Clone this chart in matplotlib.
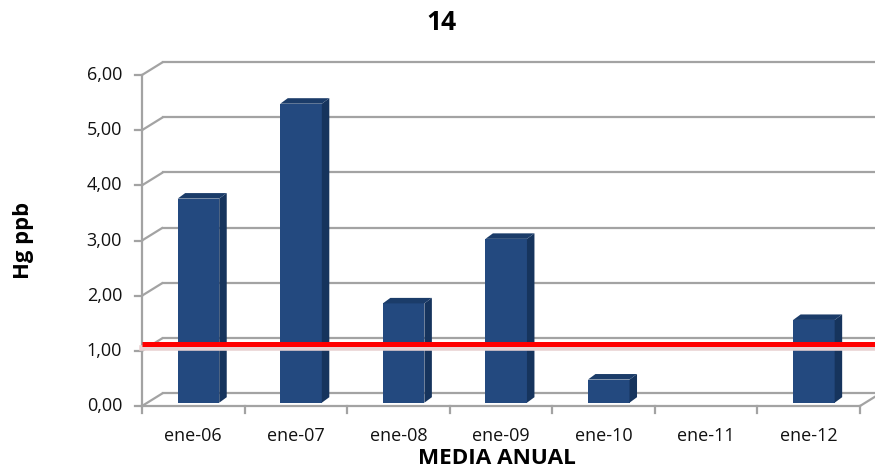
import matplotlib
matplotlib.use("Agg")
import matplotlib.pyplot as plt
from matplotlib.patches import Polygon
import numpy as np

categories = ["ene-06", "ene-07", "ene-08", "ene-09", "ene-10", "ene-11", "ene-12"]
values = [3.70, 5.42, 1.80, 2.97, 0.42, np.nan, 1.50]
limit_value = 1.0
yticks = [0, 1, 2, 3, 4, 5, 6]
ytick_labels = ["0,00", "1,00", "2,00", "3,00", "4,00", "5,00", "6,00"]
title = "14"
ylabel = "Hg ppb"
xlabel = "MEDIA ANUAL"

FONT = "Open Sans"
W, H = 875, 471
fig = plt.figure(figsize=(W / 100, H / 100), dpi=100)
x0px, x1px, y0px, y1px = 142, 860, 406, 75
ax = fig.add_axes([x0px / W, (H - y0px) / H, (x1px - x0px) / W, (y0px - y1px) / H])
n = len(categories)
ax.set_xlim(0, n)
ax.set_ylim(0, 6)
ax.axis("off")

px = n / (x1px - x0px)        # data units per pixel (x)
py = 6 / (y0px - y1px)        # data units per pixel (y)

dxw, dyw = 21 * px, 13 * py   # wall depth
grid_c = "#a3a3a3"
glw = 1.6

# back wall gridlines + diagonals
for v, lab in zip(yticks, ytick_labels):
    ax.plot([0, dxw], [v, v + dyw], color=grid_c, lw=glw, clip_on=False, solid_capstyle="butt")
    ax.plot([dxw, n + dxw + 1], [v + dyw, v + dyw], color=grid_c, lw=glw, clip_on=False)
    ax.plot([-7 * px, 0], [v, v], color=grid_c, lw=glw, clip_on=False)
    ax.text(-20 * px, v, lab, ha="right", va="center",
            fontsize=13, family=FONT, color="#111111")

# front vertical axis
ax.plot([0, 0], [0, 6], color=grid_c, lw=glw, clip_on=False)
# floor front edge + right diagonal
ax.plot([0, n], [0, 0], color=grid_c, lw=glw, clip_on=False)
ax.plot([n, n + dxw], [0, dyw], color=grid_c, lw=glw, clip_on=False)
for i in range(n + 1):
    ax.plot([i, i], [0, -7 * py], color=grid_c, lw=glw, clip_on=False)

# bars (pseudo 3D)
front_c = "#23497f"
side_c = "#16345d"
top_c = "#1b3c69"
base = 3.3 * py
bw = 0.405
off = 0.348
dxb, dyb = 7.5 * px, 5.5 * py
for i, v in enumerate(values):
    if np.isnan(v):
        continue
    xl = i + off
    ax.bar(xl, v, width=bw, bottom=base, align="edge", color=front_c, edgecolor="none", zorder=3)
    xr = xl + bw
    top = base + v
    ax.add_patch(Polygon([(xr, base), (xr + dxb, base + dyb), (xr + dxb, top + dyb), (xr, top)],
                         closed=True, facecolor=side_c, edgecolor="none", zorder=3))
    ax.add_patch(Polygon([(xl, top), (xr, top), (xr + dxb, top + dyb), (xl + dxb, top + dyb)],
                         closed=True, facecolor=top_c, edgecolor="none", zorder=3))

for i, c in enumerate(categories):
    ax.text(i + 0.5, -30 * py, c, ha="center", va="center", fontsize=13, family=FONT, color="#111111")

# limit line at mid-depth plane
ly = limit_value + dyw / 2
ax.plot([0, n + 1], [ly - 4 * py, ly - 4 * py], color="#e8d2d2", lw=4, clip_on=False, zorder=4)
ax.plot([0, n + 1], [ly, ly], color="#ff0000", lw=3.6, clip_on=False, zorder=5, solid_capstyle="butt")

fig.text(441 / W, 1 - 23 / H, title, ha="center", va="center", fontsize=19, fontweight="bold", family=FONT)
fig.text(497 / W, 1 - 459 / H, xlabel, ha="center", va="center", fontsize=16.2, fontweight="bold", family=FONT)
fig.text(24 / W, 1 - 240 / H, ylabel, ha="center", va="center", fontsize=15.8, fontweight="bold",
         family=FONT, rotation=90)

fig.savefig("out.png", dpi=100)
